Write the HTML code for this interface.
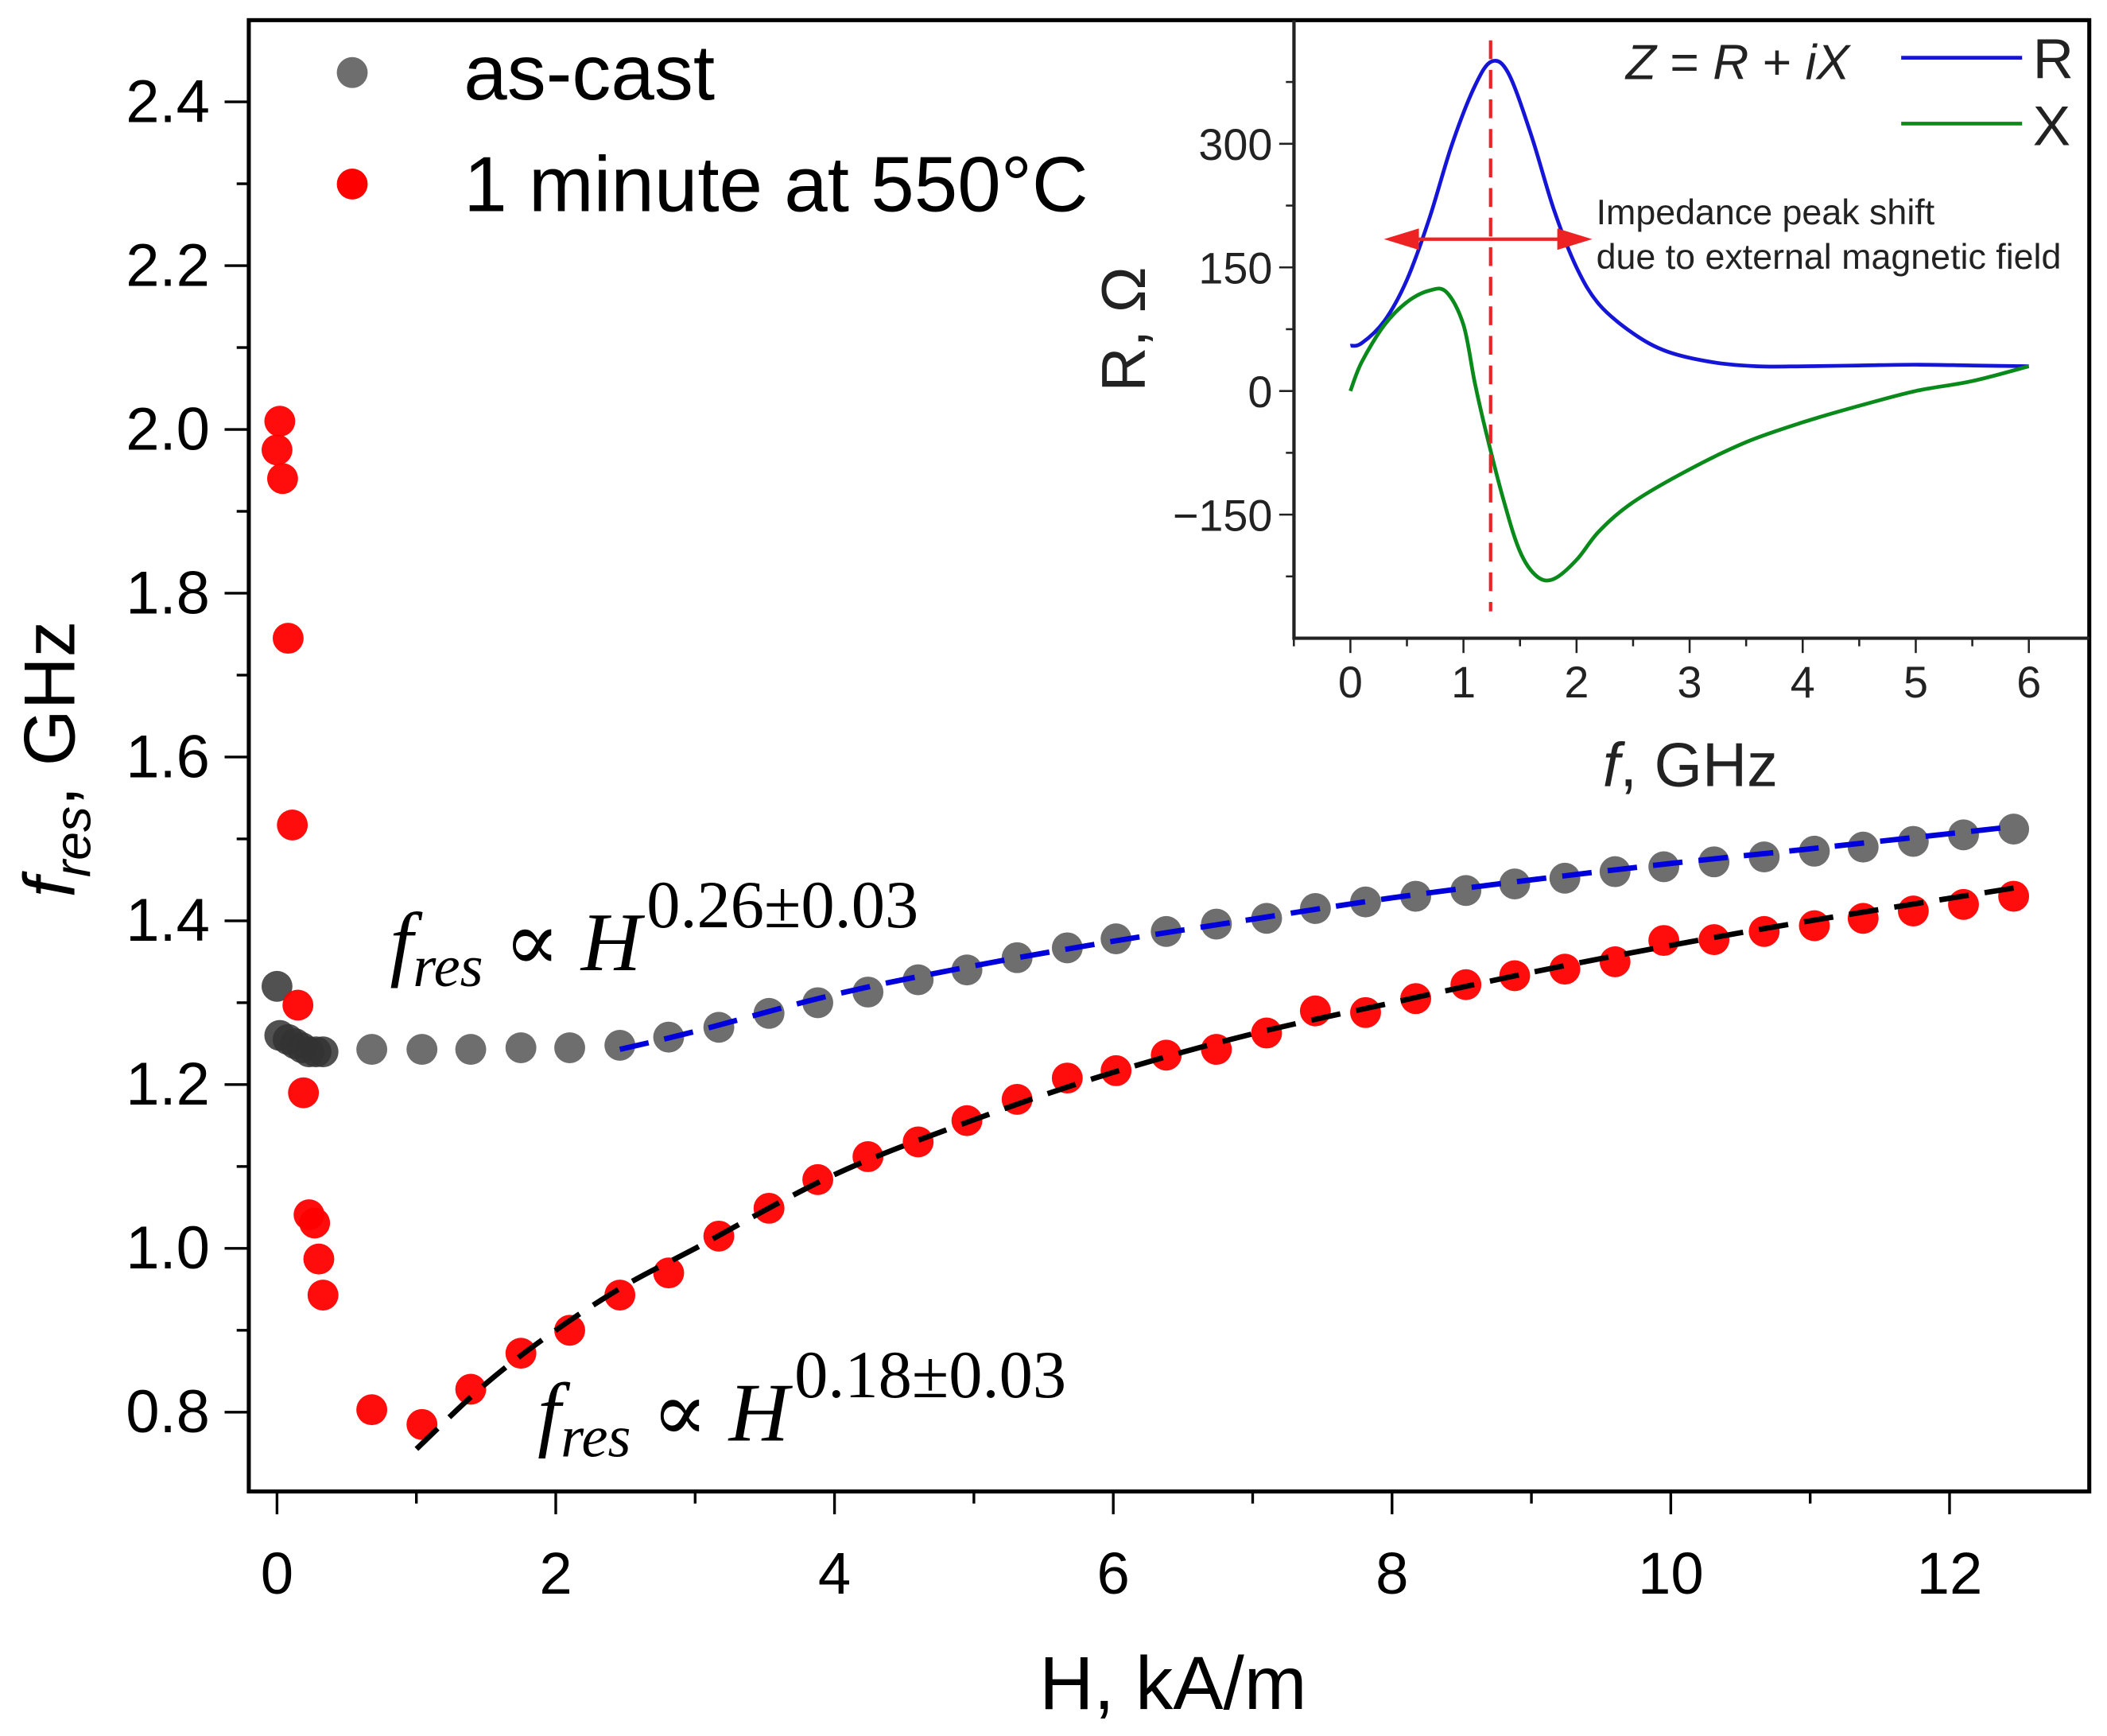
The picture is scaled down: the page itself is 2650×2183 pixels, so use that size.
<!DOCTYPE html>
<html><head><meta charset="utf-8"><style>
html,body{margin:0;padding:0;background:#fff;}
svg{display:block;}
text{font-family:"Liberation Sans",sans-serif;}
.serif{font-family:"Liberation Serif","DejaVu Serif",serif;font-style:italic;}
</style></head>
<body>
<svg id="chart" width="2650" height="2183" viewBox="0 0 1568 1292" xmlns="http://www.w3.org/2000/svg">
<rect width="1568" height="1292" fill="#fff"/>
<g id="main"></g>
<g id="inset"></g>
</svg>
<script>
// ---- main chart data ----
const castH = [0.0,0.02,0.08,0.13,0.18,0.23,0.28,0.33,0.68,1.04,1.39,1.75,2.1,2.46,2.81,3.17,3.53,3.88,4.24,4.6,4.95,5.31,5.67,6.02,6.38,6.74,7.1,7.45,7.81,8.17,8.53,8.88,9.24,9.6,9.95,10.31,10.67,11.03,11.38,11.74,12.1,12.46];
const castF = [1.32,1.26,1.255,1.25,1.245,1.24,1.24,1.24,1.243,1.243,1.243,1.245,1.245,1.248,1.258,1.27,1.287,1.3,1.313,1.328,1.34,1.355,1.367,1.378,1.387,1.396,1.403,1.415,1.423,1.43,1.437,1.445,1.452,1.46,1.466,1.472,1.478,1.485,1.49,1.497,1.505,1.512];
const annH = [0.02,0.0,0.04,0.08,0.11,0.15,0.19,0.23,0.27,0.3,0.33,0.68,1.04,1.39,1.75,2.1,2.46,2.81,3.17,3.53,3.88,4.24,4.6,4.95,5.31,5.67,6.02,6.38,6.74,7.1,7.45,7.81,8.17,8.53,8.88,9.24,9.6,9.95,10.31,10.67,11.03,11.38,11.74,12.1,12.46];
const annF = [2.01,1.975,1.94,1.745,1.517,1.297,1.19,1.041,1.031,0.987,0.943,0.803,0.785,0.828,0.872,0.9,0.943,0.97,1.015,1.049,1.084,1.112,1.13,1.156,1.182,1.208,1.217,1.236,1.243,1.263,1.29,1.288,1.305,1.322,1.333,1.341,1.35,1.376,1.377,1.387,1.394,1.403,1.412,1.42,1.43];
const fitCastH = [2.46,3,4,5,6,7,8,9,10,11,12.46];
const fitCastF = [1.243,1.265,1.31,1.345,1.375,1.402,1.428,1.45,1.47,1.488,1.515];
const fitAnnH = [1.0,1.5,2,2.5,3,4,5,6,7,8,9,10,11,12.46];
const fitAnnF = [0.755,0.835,0.9,0.955,1.0,1.09,1.157,1.215,1.262,1.3,1.337,1.37,1.4,1.44];
const xTicks = [0,2,4,6,8,10,12];
const yTicks = ["0.8","1.0","1.2","1.4","1.6","1.8","2.0","2.2","2.4"];
// ---- inset data ----
const rF = [0,0.1,0.3,0.5,0.7,0.9,1.1,1.25,1.4,1.6,1.8,2.0,2.2,2.5,2.8,3.2,3.6,4,4.5,5,5.5,6];
const rV = [55,58,85,135,210,300,370,400,385,310,220,150,105,70,48,35,30,30,31,32,31,30];
const xiF = [0,0.1,0.3,0.5,0.7,0.85,1.0,1.1,1.2,1.35,1.5,1.65,1.8,2.0,2.2,2.5,3,3.5,4,4.5,5,5.5,6];
const xiV = [0,35,80,108,122,120,80,10,-50,-130,-195,-225,-228,-205,-170,-135,-95,-62,-38,-18,0,12,30];
const inXTicks = [0,1,2,3,4,5,6];
const inYTicks = [300,150,0,-150];
const inYLabels = ["300","150","0","\u2212150"];
const peakF = [1.24];

const NS="http://www.w3.org/2000/svg";
function mk(parent,tag,attrs,txt){const e=document.createElementNS(NS,tag);for(const k in attrs)e.setAttribute(k,attrs[k]);if(txt!==undefined)e.textContent=txt;parent.appendChild(e);return e;}
const X=h=>206+h*103.75;
const Y=f=>1051-(f-0.8)*609.5;
const IX=f=>1005+f*84.17;
const IY=v=>291-v*0.6133;
const main=document.getElementById('main');
const inset=document.getElementById('inset');
function smooth(xs,ys,fx,fy){
  const p=xs.map((v,i)=>[fx(v),fy(ys[i])]);
  let d='M'+p[0][0].toFixed(1)+','+p[0][1].toFixed(1);
  for(let i=0;i<p.length-1;i++){
    const p0=p[Math.max(0,i-1)],p1=p[i],p2=p[i+1],p3=p[Math.min(p.length-1,i+2)];
    const c1=[p1[0]+(p2[0]-p0[0])/6,p1[1]+(p2[1]-p0[1])/6];
    const c2=[p2[0]-(p3[0]-p1[0])/6,p2[1]-(p3[1]-p1[1])/6];
    d+=' C'+c1[0].toFixed(1)+','+c1[1].toFixed(1)+' '+c2[0].toFixed(1)+','+c2[1].toFixed(1)+' '+p2[0].toFixed(1)+','+p2[1].toFixed(1);
  }
  return d;
}

let e=mk(main,'rect',{x:185,y:15,width:1370,height:1095,fill:'none',stroke:'#000','stroke-width':3});


for(let i=0;i<=12;i++){
  const major=i%2===0;
  e=mk(main,'line',{x1:X(i),x2:X(i),y1:1110,y2:major?1127:1119,stroke:'#000','stroke-width':2});
  
  
}
xTicks.forEach(t=>{
  e=mk(main,'text',{x:X(t),y:1186,'font-size':44,'text-anchor':'middle'},String(t));
  
  
});
for(let i=0;i<=16;i++){
  const v=0.8+i*0.1; const major=i%2===0;
  e=mk(main,'line',{x1:185,x2:major?167:176,y1:Y(v),y2:Y(v),stroke:'#000','stroke-width':2});
  
  
}
yTicks.forEach(t=>{
  e=mk(main,'text',{x:156,y:Y(parseFloat(t))+15,'font-size':45,'text-anchor':'end'},t);
  
  
});
e=mk(main,'text',{x:873,y:1272,'font-size':56,'text-anchor':'middle'},'H, kA/m');


e=mk(main,'text',{transform:'translate(55,565) rotate(-90)','font-size':54,'text-anchor':'middle'});


mk(e,'tspan',{'font-style':'italic'},'f');
mk(e,'tspan',{'font-style':'italic','font-size':38,dy:12},'res');
mk(e,'tspan',{dy:-12},', GHz');

castH.forEach((h,i)=>{
  e=mk(main,'circle',{cx:X(h),cy:Y(castF[i]),r:11.5,fill:i<8?'#333':'#555','fill-opacity':0.85});
  
  
});
annH.forEach((h,i)=>{
  e=mk(main,'circle',{cx:X(h),cy:Y(annF[i]),r:11.5,fill:'#ff0000','fill-opacity':0.95});
  
  
});
e=mk(main,'path',{d:smooth(fitCastH,fitCastF,X,Y),fill:'none',stroke:'#0000dd','stroke-width':4,'stroke-dasharray':'22,12'});


e=mk(main,'path',{d:smooth(fitAnnH,fitAnnF,X,Y),fill:'none',stroke:'#000','stroke-width':4,'stroke-dasharray':'22,12'});



function ann(x,y,exp,name){
  const t=mk(main,'text',{x:x,y:y,'font-size':62,'class':'serif'});
  
  
  mk(t,'tspan',{},'f');
  mk(t,'tspan',{'font-size':44,dy:12},'res');
  mk(t,'tspan',{dy:-12,'font-style':'normal'},' \u221D ');
  mk(t,'tspan',{},'H');
  mk(t,'tspan',{'font-size':50,dy:-32,dx:4,'font-style':'normal'},exp);
}
ann(290,722,'0.26\u00B10.03','as-cast-fit-annotation');
ann(400,1072,'0.18\u00B10.03','annealed-fit-annotation');

e=mk(main,'circle',{cx:262,cy:54,r:11.5,fill:'#555','fill-opacity':0.85});


e=mk(main,'text',{x:345,y:74,'font-size':58},'as-cast');


e=mk(main,'circle',{cx:262,cy:137,r:11.5,fill:'#ff0000'});


e=mk(main,'text',{x:345,y:157,'font-size':58},'1 minute at 550\u00B0C');



// ---- inset ----
e=mk(inset,'polyline',{points:'963,15 963,475 1555,475',fill:'none',stroke:'#222','stroke-width':2.5});


for(let i=-1;i<=12;i++){
  const f=i*0.5;
  e=mk(inset,'line',{x1:IX(f),x2:IX(f),y1:475,y2:i%2===0?486:481,stroke:'#222','stroke-width':1.5});
  
  
}
inXTicks.forEach(t=>{
  e=mk(inset,'text',{x:IX(t),y:519,'font-size':33,'text-anchor':'middle','fill':'#222'},String(t));
  
  
});
for(let v=-225;v<=375;v+=75){
  const major=v%150===0;
  e=mk(inset,'line',{x1:963,x2:major?952:957,y1:IY(v),y2:IY(v),stroke:'#222','stroke-width':1.5});
  
  
}
inYTicks.forEach((t,i)=>{
  e=mk(inset,'text',{x:947,y:IY(t)+12,'font-size':33,'text-anchor':'end','fill':'#222'},inYLabels[i]);
  
  
});
e=mk(inset,'text',{x:1258,y:585,'font-size':46,'text-anchor':'middle','fill':'#222'});


mk(e,'tspan',{'font-style':'italic'},'f');
mk(e,'tspan',{},', GHz');
e=mk(inset,'text',{transform:'translate(852,245) rotate(-90)','font-size':46,'text-anchor':'middle','fill':'#222'},'R, \u03A9');


e=mk(inset,'path',{d:smooth(rF,rV,IX,IY),fill:'none',stroke:'#1515d8','stroke-width':2.8,'stroke-linejoin':'round'});


e=mk(inset,'path',{d:smooth(xiF,xiV,IX,IY),fill:'none',stroke:'#0a8a1a','stroke-width':2.8,'stroke-linejoin':'round'});


e=mk(inset,'line',{x1:IX(peakF[0]),x2:IX(peakF[0]),y1:30,y2:455,stroke:'#ee2222','stroke-width':2.5,'stroke-dasharray':'14,8'});


e=mk(inset,'line',{x1:1045,x2:1170,y1:178,y2:178,stroke:'#ee2222','stroke-width':2.5});


e=mk(inset,'polygon',{points:'1030,178 1056,170 1056,186',fill:'#ee2222'});


e=mk(inset,'polygon',{points:'1185,178 1159,170 1159,186',fill:'#ee2222'});


e=mk(inset,'text',{x:1188,y:167,'font-size':26.5,'fill':'#222'},'Impedance peak shift');


e=mk(inset,'text',{x:1188,y:200,'font-size':26.5,'fill':'#222'},'due to external magnetic field');


e=mk(inset,'text',{x:1210,y:59,'font-size':37,'fill':'#222'});


mk(e,'tspan',{'font-style':'italic'},'Z');
mk(e,'tspan',{},' = ');
mk(e,'tspan',{'font-style':'italic'},'R');
mk(e,'tspan',{},' + ');
mk(e,'tspan',{'font-style':'italic'},'iX');
e=mk(inset,'line',{x1:1415,x2:1505,y1:43,y2:43,stroke:'#1515d8','stroke-width':2.8});


e=mk(inset,'text',{x:1513,y:58,'font-size':42,'fill':'#222'},'R');


e=mk(inset,'line',{x1:1415,x2:1505,y1:92,y2:92,stroke:'#0a8a1a','stroke-width':2.8});


e=mk(inset,'text',{x:1513,y:108,'font-size':42,'fill':'#222'},'X');


</script>
</body></html>
